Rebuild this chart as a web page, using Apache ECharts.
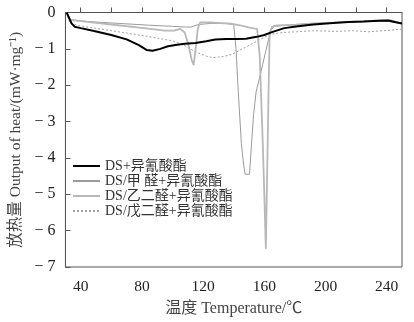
<!DOCTYPE html>
<html><head><meta charset="utf-8">
<script src="https://cdn.jsdelivr.net/npm/echarts@6/dist/echarts.min.js"></script>
<style>html,body{margin:0;padding:0;background:#fff}#c{width:414px;height:322px}</style>
</head><body><div id="c"></div>
<script>
const seriesNames = ['DS+异氰酸酯', 'DS/甲 醛+异氰酸酯', 'DS/乙二醛+异氰酸酯', 'DS/戊二醛+异氰酸酯'];
const xTickLabels = [40, 80, 120, 160, 200, 240];
const xTicks = [40, 60, 80, 100, 120, 140, 160, 180, 200, 220, 240];

const tempDS = [30.8, 31.5, 34, 36, 40, 48, 60, 70, 78, 83, 87, 92, 97, 103, 108, 115, 122, 128, 135, 142, 148, 155, 160, 165, 173, 182, 192, 205, 215, 225, 235, 241, 246, 250];
const heatDS = [0, -0.05, -0.3, -0.39, -0.43, -0.5, -0.62, -0.74, -0.9, -1.03, -1.05, -1.0, -0.93, -0.89, -0.86, -0.84, -0.79, -0.74, -0.73, -0.73, -0.72, -0.67, -0.62, -0.54, -0.43, -0.38, -0.33, -0.29, -0.26, -0.25, -0.23, -0.22, -0.27, -0.3];

const tempFormaldehyde = [30.8, 33.5, 45, 65, 85, 100, 108, 112, 117, 125, 135, 140, 141.5, 143, 145, 146.5, 147.5, 150.3, 151.5, 153, 154.7, 157.9, 161, 164.3, 166.5, 170, 180, 195, 210, 225, 240, 250];
const heatFormaldehyde = [0, -0.2, -0.25, -0.3, -0.35, -0.38, -0.4, -0.4, -0.33, -0.3, -0.3, -0.33, -1.0, -2.2, -3.6, -4.2, -4.45, -4.45, -3.7, -2.8, -2.17, -1.62, -1.05, -0.48, -0.38, -0.37, -0.33, -0.3, -0.27, -0.25, -0.24, -0.3];

const tempGlyoxal = [30.8, 33, 40, 60, 80, 95, 101, 105, 108, 110.5, 112.5, 113.8, 115, 116.5, 118, 125, 132, 139, 145, 151, 155.3, 157, 159, 160, 161, 161.8, 162.6, 163.5, 165, 167, 172, 180, 192, 205, 220, 235, 243, 250];
const heatGlyoxal = [0, -0.2, -0.24, -0.33, -0.42, -0.5, -0.5, -0.45, -0.55, -0.9, -1.3, -1.45, -1.05, -0.45, -0.27, -0.27, -0.29, -0.31, -0.36, -0.42, -0.45, -1.2, -3.6, -5.0, -6.5, -4.6, -2.6, -0.55, -0.4, -0.36, -0.35, -0.34, -0.3, -0.28, -0.25, -0.22, -0.22, -0.3];

const tempGlutaraldehyde = [30.8, 33, 40, 60, 80, 100, 107, 115, 122, 126, 132, 139, 148, 157, 164, 172, 181, 192, 207, 218, 228, 238, 250];
const heatGlutaraldehyde = [0, -0.3, -0.37, -0.5, -0.63, -0.78, -0.89, -1.08, -1.2, -1.24, -1.22, -1.15, -0.95, -0.75, -0.6, -0.55, -0.53, -0.5, -0.52, -0.5, -0.53, -0.5, -0.46];

const pair = (xs, ys) => xs.map((x, i) => [x, ys[i]]);
const styles = [
  {color: '#000', width: 2, type: 'solid'},
  {color: '#9a9a9a', width: 1, type: 'solid'},
  {color: '#b8b8b8', width: 1.8, type: 'solid'},
  {color: '#a0a0a0', width: 1, type: [2, 2]}
];
const datasets = [pair(tempDS, heatDS), pair(tempFormaldehyde, heatFormaldehyde), pair(tempGlyoxal, heatGlyoxal), pair(tempGlutaraldehyde, heatGlutaraldehyde)];

const chart = echarts.init(document.getElementById('c'), null, {renderer: 'canvas'});
chart.setOption({
  animation: false,
  backgroundColor: '#fff',
  grid: {left: 56, right: 12, top: 12.5, bottom: 54.5, show: true, borderColor: '#555', borderWidth: 1},
  legend: {
    orient: 'vertical', left: 72, top: 159, itemWidth: 27, itemHeight: 8, itemGap: 1, padding: 0,
    data: seriesNames,
    itemStyle: {opacity: 0, borderWidth: 0},
    textStyle: {fontFamily: '"Liberation Serif","Noto Sans CJK SC",serif', fontSize: 14, lineHeight: 13.5, color: '#333'}
  },
  xAxis: {
    type: 'value', min: 30, max: 250,
    name: '温度 Temperature/℃', nameLocation: 'middle', nameGap: 34,
    nameTextStyle: {fontFamily: '"Liberation Serif","Noto Sans CJK SC",serif', fontSize: 16, color: '#444'},
    axisLine: {lineStyle: {color: '#555', width: 1}},
    axisTick: {inside: true, length: 5, customValues: xTicks, lineStyle: {color: '#555'}},
    axisLabel: {customValues: xTickLabels, margin: 12, fontFamily: '"Liberation Serif",serif', fontSize: 15.5, color: '#222'},
    splitLine: {show: false}
  },
  yAxis: {
    type: 'value', min: -7, max: 0, interval: 1,
    name: '放热量 Output of heat/(mW·mg⁻¹)', nameLocation: 'middle', nameGap: 38, nameRotate: 90,
    nameTextStyle: {fontFamily: '"Liberation Serif","Noto Sans CJK SC",serif', fontSize: 15.5, color: '#444'},
    axisLine: {show: true, lineStyle: {color: '#555', width: 1}},
    axisTick: {inside: true, length: 5, lineStyle: {color: '#555'}},
    axisLabel: {margin: 10, fontFamily: '"Liberation Serif",serif', fontSize: 16, color: '#222',
      formatter: v => v === 0 ? '0' : '− ' + Math.abs(v)},
    splitLine: {show: false}
  },
  series: seriesNames.map((n, i) => ({
    name: n, type: 'line', data: datasets[i], showSymbol: false, symbol: 'none',
    lineStyle: {color: styles[i].color, width: styles[i].width, type: styles[i].type},
    itemStyle: {color: styles[i].color}, z: i === 0 ? 5 : (i === 3 ? 1 : 2)
  }))
});
</script></body></html>
